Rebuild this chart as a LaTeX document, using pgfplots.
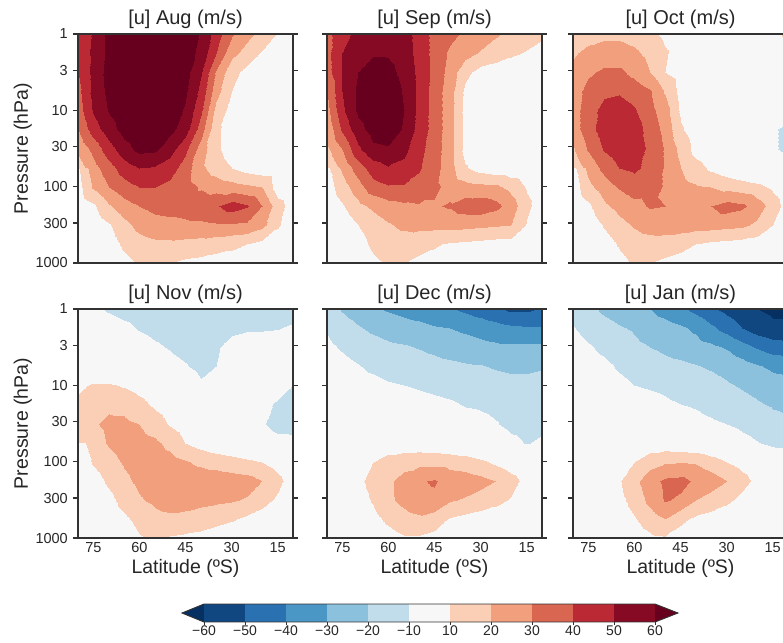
\documentclass[border=0pt]{standalone}
\usepackage{fontspec}
\setmainfont{Liberation Sans}
\usepackage{pgfplots}
\pgfplotsset{compat=1.18}
\definecolor{axc}{RGB}{50,50,50}
\definecolor{txt}{RGB}{38,38,38}
\definecolor{cu}{RGB}{5,48,97}
\definecolor{c0}{RGB}{17,71,128}
\definecolor{c1}{RGB}{42,113,178}
\definecolor{c2}{RGB}{74,151,197}
\definecolor{c3}{RGB}{139,193,220}
\definecolor{c4}{RGB}{193,221,236}
\definecolor{c5}{RGB}{247,247,247}
\definecolor{c6}{RGB}{251,206,182}
\definecolor{c7}{RGB}{242,159,126}
\definecolor{c8}{RGB}{217,102,81}
\definecolor{c9}{RGB}{187,42,52}
\definecolor{c10}{RGB}{134,10,36}
\definecolor{co}{RGB}{103,0,31}
\pgfplotsset{
  colormap={rdbu}{rgb255(0)=(5,48,97) rgb255(1)=(17,71,128) rgb255(2)=(42,113,178) rgb255(3)=(74,151,197) rgb255(4)=(139,193,220) rgb255(5)=(193,221,236) rgb255(6)=(247,247,247) rgb255(7)=(247,247,247) rgb255(8)=(251,206,182) rgb255(9)=(242,159,126) rgb255(10)=(217,102,81) rgb255(11)=(187,42,52) rgb255(12)=(134,10,36) rgb255(13)=(103,0,31) rgb255(14)=(103,0,31)},
  mypanel/.style={
    scale only axis, width=215pt, height=229pt,
    xmin=10, xmax=80, x dir=reverse,
    ymin=0, ymax=3, y dir=reverse,
    enlargelimits=false, axis on top,
    xtick={75,60,45,30,15},
    ytick={0,0.47712,1,1.47712,2,2.47712,3},
    tick align=outside, ytick pos=both, yticklabel pos=left, xtick pos=bottom,
    major tick length=5pt,
    axis line style={draw=axc, line width=1.2pt},
    tick style={draw=axc, line width=1.2pt},
    xtick style={draw=none},
    tick label style={font=\fontsize{14.5}{17}\selectfont, text=txt},
    yticklabel style={inner sep=0pt, anchor=east, xshift=-5pt},
    xticklabel style={inner sep=0pt, anchor=north, yshift=1pt},
    every axis y label/.style={at={(axis description cs:-0.2326,0.5)}, rotate=90, anchor=base, font=\fontsize{19.5}{23}\selectfont, text=txt},
    every axis x label/.style={at={(axis description cs:0.5,0)}, anchor=base, yshift=-35pt, font=\fontsize{19.5}{23}\selectfont, text=txt},
    title style={font=\fontsize{20}{24}\selectfont, text=txt, at={(0.5,1)}, anchor=base, yshift=4pt},
    colormap name=rdbu, colormap access=piecewise constant,
    point meta min=-70, point meta max=70,
  },
  myfield/.style={surf, shader=interp, mesh/cols=15, point meta=explicit},
}
\begin{document}
\begin{tikzpicture}
\useasboundingbox (0pt,0pt) rectangle (783pt,-642pt);
\clip (0pt,0pt) rectangle (783pt,-642pt);
% ---------------- Aug
\begin{axis}[mypanel, at={(78pt,-34pt)}, anchor=north west,
  title={{[u]} Aug (m/s)}, ylabel={Pressure (hPa)},
  yticklabels={1,3,10,30,100,300,1000}, xticklabels={}]
\addplot[myfield] table[row sep=\\, x expr={80-5*mod(\coordindex,15)}, y expr={0.25*floor(\coordindex/15)}, meta index=0] {u\\%
42\\51\\63\\67\\69\\69\\68\\66\\59\\45\\31\\23\\17\\9\\5\\%
43\\52\\63\\67\\69\\69\\68\\65\\57\\40\\23\\16\\9\\5\\3\\%
40\\53\\64\\67\\69\\69\\67\\64\\51\\29\\13\\7\\4\\3\\2\\%
37\\53\\63\\67\\69\\69\\67\\62\\47\\24\\10\\5\\3\\2\\2\\%
35\\51\\61\\66\\68\\68\\65\\59\\42\\17\\6\\4\\3\\2\\2\\%
30\\45\\56\\64\\68\\67\\63\\55\\35\\12\\5\\3\\2\\2\\2\\%
22\\33\\46\\56\\63\\62\\54\\43\\25\\12\\5\\3\\2\\2\\2\\%
15\\26\\36\\45\\50\\49\\45\\35\\22\\15\\10\\6\\4\\3\\2\\%
9\\21\\30\\36\\40\\40\\37\\34\\29\\26\\24\\22\\20\\4\\2\\%
3\\8\\19\\26\\30\\33\\34\\34\\36\\39\\45\\41\\30\\14\\5\\%
1\\3\\9\\17\\23\\26\\27\\28\\28\\29\\29\\28\\23\\11\\4\\%
0\\1\\5\\12\\16\\18\\18\\17\\16\\14\\12\\10\\7\\5\\2\\%
0\\0\\2\\7\\11\\12\\10\\8\\7\\6\\6\\5\\4\\2\\1\\%
};
\end{axis}
% ---------------- Sep
\begin{axis}[mypanel, at={(327pt,-34pt)}, anchor=north west,
  title={{[u]} Sep (m/s)}, yticklabels={}, xticklabels={}]
\addplot[myfield] table[row sep=\\, x expr={80-5*mod(\coordindex,15)}, y expr={0.25*floor(\coordindex/15)}, meta index=0] {u\\%
37\\46\\53\\57\\58\\54\\46\\37\\33\\28\\25\\21\\18\\15\\12\\%
37\\50\\57\\59\\59\\55\\46\\37\\28\\24\\19\\16\\12\\9\\6\\%
36\\50\\60\\64\\63\\57\\47\\37\\26\\13\\6\\4\\3\\2\\2\\%
30\\50\\62\\66\\66\\59\\47\\36\\24\\8\\4\\3\\2\\2\\2\\%
27\\48\\62\\66\\66\\60\\47\\36\\24\\7\\4\\3\\2\\2\\2\\%
22\\42\\57\\64\\65\\59\\46\\36\\24\\7\\4\\3\\2\\2\\2\\%
18\\30\\48\\58\\59\\53\\43\\35\\24\\7\\4\\3\\2\\2\\2\\%
12\\22\\35\\45\\49\\47\\41\\34\\24\\11\\6\\4\\3\\2\\2\\%
8\\15\\26\\36\\39\\39\\37\\32\\27\\24\\23\\22\\17\\9\\5\\%
3\\9\\17\\22\\26\\28\\29\\29\\31\\35\\36\\33\\25\\12\\5\\%
1\\3\\10\\15\\19\\22\\23\\23\\23\\23\\22\\21\\20\\9\\4\\%
0\\1\\6\\12\\15\\15\\13\\11\\9\\8\\7\\6\\6\\4\\2\\%
0\\0\\3\\8\\11\\10\\8\\7\\6\\5\\5\\4\\3\\2\\1\\%
};
\end{axis}
% ---------------- Oct
\begin{axis}[mypanel, at={(573pt,-34pt)}, anchor=north west,
  title={{[u]} Oct (m/s)}, yticklabels={}, xticklabels={}]
\addplot[myfield] table[row sep=\\, x expr={80-5*mod(\coordindex,15)}, y expr={0.25*floor(\coordindex/15)}, meta index=0] {u\\%
14\\17\\18\\18\\16\\12\\8\\5\\3\\2\\2\\3\\4\\7\\13\\%
19\\22\\24\\24\\22\\17\\11\\6\\3\\2\\1\\1\\1\\2\\4\\%
22\\28\\32\\32\\27\\20\\10\\5\\3\\1\\0\\0\\-1\\-1\\0\\%
24\\34\\38\\39\\36\\31\\19\\6\\3\\1\\0\\-1\\-2\\-3\\-3\\%
25\\36\\43\\44\\41\\33\\24\\8\\3\\1\\-1\\-2\\-3\\-5\\-6\\%
25\\36\\45\\47\\45\\36\\27\\11\\4\\1\\-1\\-3\\-5\\-9\\-12\\%
19\\31\\41\\46\\45\\38\\29\\17\\6\\2\\0\\-2\\-5\\-9\\-12\\%
13\\23\\33\\40\\42\\37\\29\\20\\14\\8\\4\\1\\-2\\-4\\-6\\%
7\\17\\25\\31\\35\\34\\29\\23\\21\\20\\17\\15\\13\\8\\3\\%
2\\8\\18\\23\\27\\31\\30\\27\\27\\30\\34\\32\\25\\15\\5\\%
0\\3\\11\\17\\21\\24\\25\\25\\24\\24\\23\\22\\18\\10\\3\\%
-1\\0\\5\\11\\15\\16\\15\\13\\10\\8\\7\\6\\5\\3\\1\\%
-1\\-1\\2\\7\\11\\10\\8\\6\\5\\4\\3\\3\\2\\1\\0\\%
};
\end{axis}
% ---------------- Nov
\begin{axis}[mypanel, at={(78pt,-309pt)}, anchor=north west,
  title={{[u]} Nov (m/s)}, ylabel={Pressure (hPa)}, xlabel={Latitude (ºS)},
  yticklabels={1,3,10,30,100,300,1000}, xticklabels={75,60,45,30,15}]
\addplot[myfield] table[row sep=\\, x expr={80-5*mod(\coordindex,15)}, y expr={0.25*floor(\coordindex/15)}, meta index=0] {u\\%
-4\\-8\\-11\\-13\\-14\\-15\\-15\\-15\\-15\\-15\\-15\\-15\\-15\\-15\\-16\\%
-2\\-4\\-6\\-8\\-10.5\\-12\\-13\\-14\\-14\\-14\\-12\\-11\\-11\\-10.5\\-8\\%
-1\\-2\\-4\\-5\\-7\\-9\\-10.5\\-12\\-13\\-11\\-7\\-5\\-5\\-5\\-5\\%
0\\0\\-1\\-3\\-4\\-6\\-8\\-9.5\\-12\\-10\\-5\\-3\\-3\\-4\\-5\\%
8\\11\\11\\9\\6\\3\\0\\-5\\-9\\-8\\-4\\-3\\-4\\-7\\-10\\%
12\\16\\18\\17\\13\\8\\4\\1\\-2\\-4\\-5\\-6\\-8\\-11\\-13\\%
15\\19\\22\\22\\20\\15\\9\\5\\2\\0\\-2\\-5\\-9\\-14\\-14\\%
10\\16\\21\\24\\24\\22\\17\\10\\6\\3\\1\\-1\\-3\\-6\\-7\\%
4\\11\\17\\21\\24\\26\\24\\21\\18\\16\\14\\12\\10\\5\\1\\%
0\\5\\12\\18\\22\\25\\26\\26\\26\\26\\25\\24\\20\\13\\4\\%
-1\\2\\7\\14\\19\\22\\24\\24\\23\\22\\21\\19\\14\\8\\2\\%
-1\\0\\3\\8\\13\\17\\18\\17\\15\\13\\11\\8\\5\\2\\0\\%
-1\\-1\\1\\4\\9\\11\\9\\8\\7\\5\\4\\3\\1\\0\\-1\\%
};
\end{axis}
% ---------------- Dec
\begin{axis}[mypanel, at={(327pt,-309pt)}, anchor=north west,
  title={{[u]} Dec (m/s)}, xlabel={Latitude (ºS)},
  yticklabels={}, xticklabels={75,60,45,30,15}]
\addplot[myfield] table[row sep=\\, x expr={80-5*mod(\coordindex,15)}, y expr={0.25*floor(\coordindex/15)}, meta index=0] {u\\%
-13\\-21\\-25\\-29\\-31\\-33\\-35\\-37\\-39\\-42\\-45\\-48\\-52\\-52\\-49\\%
-11\\-15\\-19\\-22\\-24\\-26\\-27\\-29\\-30\\-32\\-34\\-36\\-38\\-39\\-39\\%
-8\\-11\\-14\\-16\\-18\\-19\\-20.5\\-22\\-24\\-25\\-27\\-28\\-28\\-28\\-28\\%
-5\\-7\\-9.5\\-12\\-14\\-15\\-16\\-17\\-18\\-19\\-19.5\\-21\\-22\\-22\\-21\\%
-3\\-4\\-6\\-7\\-9\\-10\\-11\\-12\\-13\\-14\\-15\\-16\\-17\\-17\\-16\\%
-1\\-2\\-3\\-4\\-5\\-6\\-7\\-8\\-9\\-10.5\\-11\\-12\\-13\\-14\\-14\\%
0\\0\\-1\\-1\\-2\\-3\\-4\\-5\\-6\\-7\\-8\\-9.5\\-12\\-13\\-13\\%
0\\1\\2\\3\\4\\4\\4\\3\\2\\0\\-2\\-5\\-8\\-10.5\\-8\\%
1\\4\\7\\10\\14\\16\\17\\17\\16\\15\\12\\8\\4\\1\\-1\\%
1\\4\\8\\13\\18\\24\\29\\31\\26\\25\\23\\20\\14\\6\\2\\%
0\\3\\6\\11\\18\\23\\27\\28\\21\\19\\16\\13\\9\\5\\2\\%
0\\1\\3\\7\\12\\16\\18\\15\\9\\7\\5\\4\\3\\2\\1\\%
0\\0\\1\\3\\6\\9\\9\\7\\4\\3\\2\\2\\1\\1\\0\\%
};
\end{axis}
% ---------------- Jan
\begin{axis}[mypanel, at={(573pt,-309pt)}, anchor=north west,
  title={{[u]} Jan (m/s)}, xlabel={Latitude (ºS)},
  yticklabels={}, xticklabels={75,60,45,30,15}]
\addplot[myfield] table[row sep=\\, x expr={80-5*mod(\coordindex,15)}, y expr={0.25*floor(\coordindex/15)}, meta index=0] {u\\%
-12\\-17\\-22\\-25\\-28\\-30\\-34\\-38\\-43\\-48\\-53\\-57\\-60\\-62\\-62\\%
-9.5\\-13\\-16\\-19\\-21\\-24\\-26\\-28.5\\-32\\-38\\-44\\-50\\-55\\-58\\-58\\%
-6\\-9\\-12\\-15\\-18\\-20\\-22\\-24\\-26\\-28\\-31\\-36\\-41\\-45\\-46\\%
-4\\-6\\-8\\-11\\-13\\-15\\-17\\-18\\-19.5\\-21\\-23\\-26\\-29\\-32\\-33\\%
-2\\-4\\-6\\-8\\-10\\-11\\-12\\-14\\-16\\-17\\-19\\-21\\-23\\-26\\-28\\%
-1\\-2\\-3\\-5\\-6\\-7\\-8.5\\-10\\-11\\-13\\-15\\-17\\-19\\-21\\-22\\%
0\\-1\\-1\\-2\\-3\\-4\\-5\\-6\\-7\\-8.5\\-10\\-12\\-14\\-17\\-18\\%
0\\1\\2\\3\\4\\4\\4\\3\\1\\-1\\-4\\-7\\-9.5\\-12\\-13\\%
0\\2\\4\\7\\10\\16\\19\\19.5\\19\\15\\10\\6\\2\\-2\\-4\\%
0\\2\\5\\9\\17\\26\\32\\33\\28\\25\\20\\14\\7\\2\\0\\%
0\\1\\3\\7\\14\\23\\31\\28\\20\\16\\12\\7\\4\\1\\0\\%
0\\0\\1\\3\\9\\15\\20\\12\\8\\6\\4\\3\\1\\0\\0\\%
0\\0\\0\\1\\4\\8\\9\\6\\4\\3\\2\\1\\0\\0\\0\\%
};
\end{axis}
% ---------------- colorbar
\begin{axis}[at={(204pt,-622pt)}, anchor=south west, scale only axis,
  width=451pt, height=18pt, xmin=0, xmax=11, ymin=0, ymax=1, clip=false,
  axis line style={draw=none}, ytick=\empty,
  xtick={0,1,2,3,4,5,6,7,8,9,10,11},
  xticklabels={−60,−50,−40,−30,−20,−10,10,20,30,40,50,60},
  xtick pos=bottom, tick align=outside, major tick length=3pt,
  tick style={draw=axc, line width=0.9pt},
  tick label style={font=\fontsize{14}{16}\selectfont, text=txt},
  xticklabel style={inner sep=0pt, anchor=north, yshift=-1pt}]
\addplot[fill=cu, draw=none] coordinates {(-0.537,0.5) (0,0) (0,1)} -- cycle;
\addplot[fill=c0, draw=none] coordinates {(0,0) (1,0) (1,1) (0,1)} -- cycle;
\addplot[fill=c1, draw=none] coordinates {(1,0) (2,0) (2,1) (1,1)} -- cycle;
\addplot[fill=c2, draw=none] coordinates {(2,0) (3,0) (3,1) (2,1)} -- cycle;
\addplot[fill=c3, draw=none] coordinates {(3,0) (4,0) (4,1) (3,1)} -- cycle;
\addplot[fill=c4, draw=none] coordinates {(4,0) (5,0) (5,1) (4,1)} -- cycle;
\addplot[fill=c5, draw=none] coordinates {(5,0) (6,0) (6,1) (5,1)} -- cycle;
\addplot[fill=c6, draw=none] coordinates {(6,0) (7,0) (7,1) (6,1)} -- cycle;
\addplot[fill=c7, draw=none] coordinates {(7,0) (8,0) (8,1) (7,1)} -- cycle;
\addplot[fill=c8, draw=none] coordinates {(8,0) (9,0) (9,1) (8,1)} -- cycle;
\addplot[fill=c9, draw=none] coordinates {(9,0) (10,0) (10,1) (9,1)} -- cycle;
\addplot[fill=c10, draw=none] coordinates {(10,0) (11,0) (11,1) (10,1)} -- cycle;
\addplot[fill=co, draw=none] coordinates {(11,0) (11.56,0.5) (11,1)} -- cycle;
\addplot[draw=axc, line width=0.9pt, fill=none] coordinates {(-0.537,0.5) (0,0) (11,0) (11.56,0.5) (11,1) (0,1)} -- cycle;
\end{axis}
\end{tikzpicture}
\end{document}
